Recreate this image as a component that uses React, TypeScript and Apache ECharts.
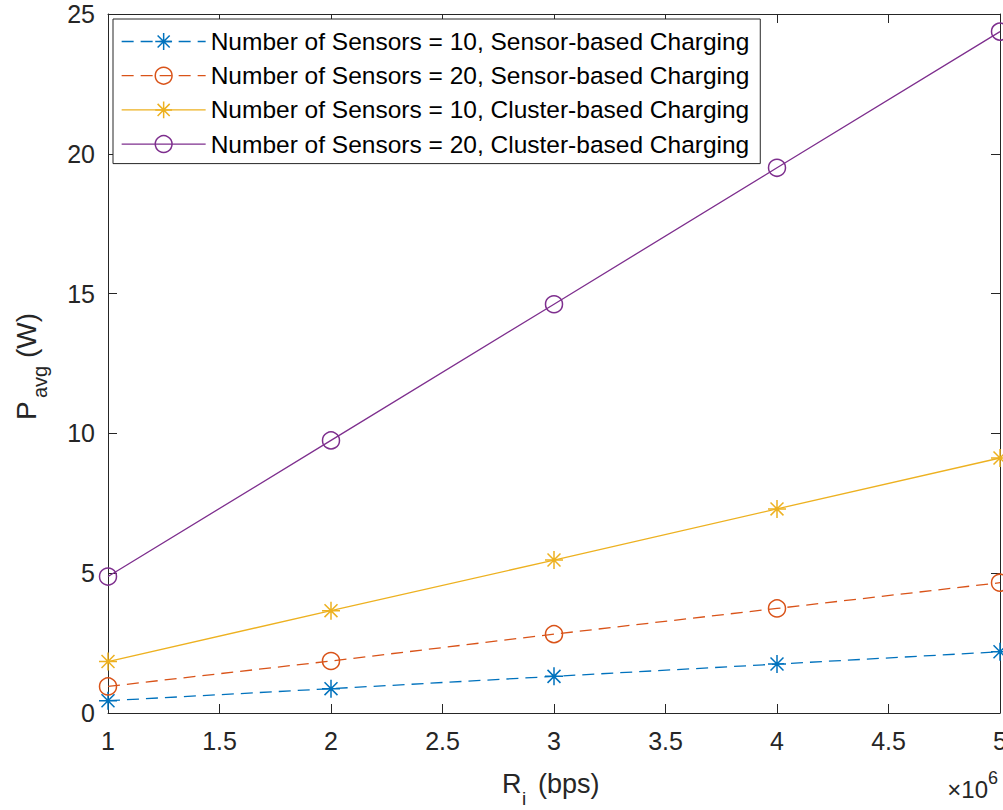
import React, { useEffect, useRef } from "react";
import * as echarts from "echarts";

const rates = [1e6, 2e6, 3e6, 4e6, 5e6];
const sensor10 = [0.44, 0.87, 1.31, 1.75, 2.19];
const sensor20 = [0.95, 1.86, 2.82, 3.74, 4.66];
const cluster10 = [1.84, 3.66, 5.47, 7.3, 9.12];
const cluster20 = [4.88, 9.75, 14.62, 19.5, 24.37];
const seriesNames = [
  "Number of Sensors = 10, Sensor-based Charging",
  "Number of Sensors = 20, Sensor-based Charging",
  "Number of Sensors = 10, Cluster-based Charging",
  "Number of Sensors = 20, Cluster-based Charging",
];
const yTicksMax = 25;

const FONT = "'Liberation Sans', Arial, Helvetica, sans-serif";
const AX = "#262626";
const ASTERISK =
  "path://M0,-1L0,1M-1,0L1,0M-0.72,-0.72L0.72,0.72M-0.72,0.72L0.72,-0.72";

export default function App() {
  const ref = useRef<HTMLDivElement>(null);
  useEffect(() => {
    if (!ref.current) return;
    const chart = echarts.init(ref.current, undefined, { renderer: "svg" });
    const colors = ["#0072BD", "#D95319", "#EDB120", "#7E2F8E"];
    const datasets = [sensor10, sensor20, cluster10, cluster20];
    const symbols = [ASTERISK, "circle", ASTERISK, "circle"];
    const dashed = [true, true, false, false];
    const series = datasets.map((vals, i) => ({
      name: seriesNames[i],
      type: "line",
      data: vals.map((v, j) => [rates[j], v]),
      symbol: symbols[i],
      symbolSize: symbols[i] === "circle" ? 17 : 18,
      showAllSymbol: true,
      lineStyle: { color: colors[i], width: 1.3, type: dashed[i] ? [12, 7] : "solid" },
      itemStyle: { color: "rgba(0,0,0,0)", borderColor: colors[i], borderWidth: 1.5 },
      emphasis: { disabled: true },
      z: 3,
    }));
    const axisCommonX = {
      type: "value",
      min: 1e6,
      max: 5e6,
      interval: 5e5,
      axisLine: { show: true, onZero: false, lineStyle: { color: AX, width: 1 } },
      axisTick: { show: true, inside: true, length: 9, lineStyle: { color: AX, width: 1 } },
      splitLine: { show: false },
    };
    const axisCommonY = {
      type: "value",
      min: 0,
      max: yTicksMax,
      interval: 5,
      axisLine: { show: true, onZero: false, lineStyle: { color: AX, width: 1 } },
      axisTick: { show: true, inside: true, length: 9, lineStyle: { color: AX, width: 1 } },
      splitLine: { show: false },
    };
    chart.setOption({
      animation: false,
      backgroundColor: "#ffffff",
      grid: {
        left: 108,
        top: 14,
        right: 3,
        bottom: 97,
        containLabel: false,
        outerBoundsMode: "none",
      },
      xAxis: [
        {
          ...axisCommonX,
          position: "bottom",
          axisLabel: {
            show: true,
            margin: 15,
            color: AX,
            fontSize: 25,
            fontFamily: FONT,
            formatter: (v: number) => String(v / 1e6),
          },
        },
        { ...axisCommonX, position: "top", axisLabel: { show: false } },
      ],
      yAxis: [
        {
          ...axisCommonY,
          position: "left",
          axisLabel: { show: true, margin: 13, color: AX, fontSize: 25, fontFamily: FONT },
        },
        { ...axisCommonY, position: "right", axisLabel: { show: false } },
      ],
      legend: {
        orient: "vertical",
        left: 113,
        top: 19,
        padding: [10, 11, 7, 8],
        itemGap: 9.2,
        itemWidth: 84,
        itemHeight: 21,
        backgroundColor: "#ffffff",
        borderColor: AX,
        borderWidth: 1,
        borderRadius: 0,
        selectedMode: false,
        textStyle: { color: "#000000", fontSize: 24.5, fontFamily: FONT },
        itemStyle: { borderWidth: 1.5 },
        lineStyle: { width: 1.3 },
        data: seriesNames,
      },
      series,
      graphic: [
        {
          type: "text",
          x: 502,
          y: 783.5,
          style: { text: "R", fontSize: 27, fontFamily: FONT, fill: AX, align: "left", verticalAlign: "middle" },
        },
        {
          type: "text",
          x: 522,
          y: 798,
          style: { text: "i", fontSize: 19, fontFamily: FONT, fill: AX, align: "left", verticalAlign: "middle" },
        },
        {
          type: "text",
          x: 538,
          y: 783.5,
          style: { text: "(bps)", fontSize: 27, fontFamily: FONT, fill: AX, align: "left", verticalAlign: "middle" },
        },
        {
          type: "group",
          x: 26,
          y: 420,
          rotation: Math.PI / 2,
          children: [
            {
              type: "text",
              x: 0,
              y: 0,
              style: { text: "P", fontSize: 28, fontFamily: FONT, fill: AX, align: "left", verticalAlign: "middle" },
            },
            {
              type: "text",
              x: 22,
              y: 14,
              style: { text: "avg", fontSize: 20, fontFamily: FONT, fill: AX, align: "left", verticalAlign: "middle" },
            },
            {
              type: "text",
              x: 62,
              y: 0,
              style: { text: "(W)", fontSize: 28, fontFamily: FONT, fill: AX, align: "left", verticalAlign: "middle" },
            },
          ],
        },
        {
          type: "text",
          x: 988,
          y: 789,
          style: { text: "×10", fontSize: 24, fontFamily: FONT, fill: AX, align: "right", verticalAlign: "middle" },
        },
        {
          type: "text",
          x: 988,
          y: 778,
          style: { text: "6", fontSize: 18, fontFamily: FONT, fill: AX, align: "left", verticalAlign: "middle" },
        },
      ],
    });
    return () => chart.dispose();
  }, []);
  return (
    <div
      ref={ref}
      style={{ position: "absolute", left: 0, top: 0, width: 1003, height: 810 }}
    />
  );
}
